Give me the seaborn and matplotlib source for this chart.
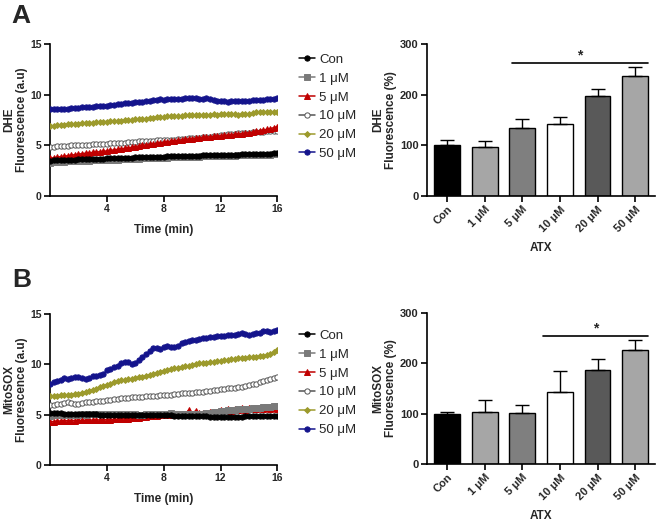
import numpy as np
import pandas as pd
import matplotlib
matplotlib.use('Agg')
import matplotlib.pyplot as plt
import seaborn as sns

# time axis (min), one reading every 0.25 min
time_min = [i * 0.25 for i in range(65)]
conc_labels = ["Con", "1 μM", "5 μM", "10 μM", "20 μM", "50 μM"]

# ---- panel A, DHE kinetics (a.u) ----
dhe_con = [3.5, 3.52, 3.55, 3.55, 3.57, 3.58, 3.6, 3.6, 3.62, 3.62, 3.63, 3.65, 3.65,
           3.66, 3.68, 3.68, 3.7, 3.7, 3.72, 3.73, 3.75, 3.75, 3.77, 3.78, 3.8, 3.8,
           3.82, 3.83, 3.85, 3.85, 3.87, 3.88, 3.88, 3.9, 3.9, 3.92, 3.92, 3.93, 3.95,
           3.95, 3.96, 3.97, 3.98, 4.0, 4.0, 4.02, 4.02, 4.03, 4.05, 4.05, 4.06, 4.07,
           4.08, 4.08, 4.1, 4.1, 4.12, 4.12, 4.13, 4.15, 4.15, 4.17, 4.18, 4.2, 4.22]
dhe_1 = [3.3, 3.32, 3.35, 3.37, 3.4, 3.42, 3.43, 3.45, 3.47, 3.48, 3.5, 3.5, 3.52,
         3.53, 3.55, 3.56, 3.57, 3.58, 3.6, 3.6, 3.62, 3.63, 3.65, 3.66, 3.67, 3.68,
         3.7, 3.71, 3.72, 3.73, 3.75, 3.76, 3.77, 3.78, 3.8, 3.8, 3.82, 3.83, 3.84,
         3.85, 3.86, 3.87, 3.88, 3.9, 3.9, 3.92, 3.93, 3.94, 3.95, 3.96, 3.97, 3.98,
         3.99, 4.0, 4.0, 4.02, 4.03, 4.04, 4.05, 4.06, 4.07, 4.08, 4.09, 4.1, 4.1]
dhe_5 = [3.72, 3.78, 3.82, 3.88, 3.92, 3.98, 4.02, 4.08, 4.12, 4.18, 4.22, 4.25, 4.3,
         4.33, 4.37, 4.4, 4.45, 4.5, 4.55, 4.6, 4.65, 4.7, 4.75, 4.8, 4.88, 4.95,
         5.0, 5.05, 5.1, 5.15, 5.2, 5.25, 5.3, 5.35, 5.4, 5.45, 5.5, 5.55, 5.6,
         5.63, 5.67, 5.7, 5.75, 5.78, 5.8, 5.85, 5.88, 5.9, 5.95, 5.98, 6.02, 6.05,
         6.08, 6.12, 6.15, 6.2, 6.25, 6.3, 6.38, 6.45, 6.5, 6.58, 6.65, 6.75, 6.85]
dhe_10 = [4.85, 4.88, 4.9, 4.92, 4.95, 4.98, 5.0, 5.02, 5.03, 5.05, 5.07, 5.08, 5.1,
          5.12, 5.13, 5.15, 5.17, 5.18, 5.2, 5.22, 5.25, 5.27, 5.3, 5.32, 5.35, 5.38,
          5.4, 5.42, 5.45, 5.47, 5.48, 5.5, 5.52, 5.53, 5.55, 5.57, 5.6, 5.62, 5.65,
          5.68, 5.7, 5.72, 5.75, 5.78, 5.82, 5.85, 5.9, 5.95, 6.0, 6.05, 6.1, 6.12,
          6.15, 6.18, 6.2, 6.22, 6.25, 6.28, 6.3, 6.32, 6.35, 6.38, 6.4, 6.42, 6.45]
dhe_20 = [6.9, 6.95, 7.0, 7.02, 7.05, 7.08, 7.1, 7.12, 7.15, 7.18, 7.2, 7.22, 7.25,
          7.28, 7.3, 7.32, 7.35, 7.38, 7.4, 7.42, 7.45, 7.48, 7.5, 7.52, 7.55, 7.58,
          7.6, 7.62, 7.68, 7.72, 7.78, 7.8, 7.82, 7.85, 7.88, 7.9, 7.92, 7.9, 7.95,
          7.98, 8.0, 7.98, 8.0, 8.02, 8.0, 8.02, 8.05, 8.03, 8.05, 8.08, 8.05, 8.1,
          8.05, 8.0, 8.05, 8.1, 8.12, 8.15, 8.25, 8.3, 8.28, 8.32, 8.3, 8.28, 8.25]
dhe_50 = [8.55, 8.58, 8.6, 8.6, 8.62, 8.6, 8.65, 8.7, 8.72, 8.75, 8.78, 8.8, 8.82,
          8.85, 8.88, 8.9, 8.92, 8.95, 9.0, 9.05, 9.1, 9.15, 9.2, 9.22, 9.25, 9.28,
          9.3, 9.38, 9.42, 9.45, 9.5, 9.55, 9.52, 9.55, 9.58, 9.6, 9.58, 9.62, 9.65,
          9.65, 9.7, 9.68, 9.6, 9.62, 9.7, 9.55, 9.45, 9.38, 9.35, 9.38, 9.32, 9.35,
          9.35, 9.38, 9.4, 9.38, 9.42, 9.45, 9.48, 9.5, 9.52, 9.55, 9.58, 9.62, 9.68]

# ---- panel B, MitoSOX kinetics (a.u) ----
mito_con = [5.2, 5.18, 5.15, 5.12, 5.1, 5.1, 5.08, 5.08, 5.05, 5.05, 5.05, 5.03, 5.02,
            5.02, 5.0, 5.0, 5.0, 5.0, 4.98, 4.98, 4.97, 4.97, 4.96, 4.95, 4.95, 4.95,
            4.95, 4.95, 4.94, 4.95, 4.95, 4.93, 4.93, 4.92, 4.92, 4.9, 4.9, 4.9, 4.88,
            4.88, 4.87, 4.86, 4.85, 4.85, 4.83, 4.82, 4.82, 4.8, 4.78, 4.78, 4.8, 4.82,
            4.82, 4.8, 4.82, 4.85, 4.85, 4.83, 4.85, 4.87, 4.88, 4.88, 4.9, 4.9, 4.9]
mito_1 = [4.9, 4.92, 4.95, 4.95, 4.97, 4.98, 5.0, 5.0, 5.0, 5.02, 5.0, 5.02, 5.03,
          5.02, 5.03, 5.05, 5.05, 5.05, 5.03, 5.05, 5.08, 5.05, 5.05, 5.02, 5.03, 5.0,
          5.0, 5.02, 5.03, 5.05, 5.07, 5.1, 5.08, 5.1, 5.12, 5.1, 5.1, 5.08, 5.05,
          5.05, 5.08, 5.05, 5.05, 5.1, 5.15, 5.2, 5.25, 5.3, 5.35, 5.4, 5.45, 5.48,
          5.5, 5.52, 5.55, 5.58, 5.6, 5.62, 5.65, 5.7, 5.72, 5.75, 5.8, 5.82, 5.85]
mito_5 = [4.3, 4.32, 4.35, 4.38, 4.4, 4.4, 4.42, 4.42, 4.43, 4.45, 4.45, 4.45, 4.47,
          4.47, 4.48, 4.5, 4.5, 4.52, 4.53, 4.55, 4.57, 4.6, 4.62, 4.65, 4.68, 4.7,
          4.75, 4.8, 4.85, 4.88, 4.9, 4.92, 4.95, 4.95, 4.97, 5.0, 5.0, 5.02, 5.05,
          5.45, 5.1, 5.4, 5.12, 5.15, 5.2, 5.22, 5.25, 5.3, 5.5, 5.35, 5.55, 5.4,
          5.6, 5.45, 5.65, 5.5, 5.7, 5.55, 5.6, 5.62, 5.6, 5.62, 5.6, 5.62, 5.6]
mito_10 = [5.95, 6.0, 6.05, 6.1, 6.2, 6.22, 6.18, 6.1, 6.08, 6.15, 6.22, 6.25, 6.3,
           6.32, 6.35, 6.4, 6.45, 6.5, 6.55, 6.58, 6.62, 6.65, 6.7, 6.72, 6.75, 6.78,
           6.8, 6.82, 6.85, 6.88, 6.9, 6.92, 6.95, 6.98, 7.0, 7.05, 7.1, 7.12, 7.15,
           7.18, 7.2, 7.22, 7.25, 7.3, 7.35, 7.4, 7.45, 7.5, 7.55, 7.6, 7.62, 7.65,
           7.7, 7.75, 7.8, 7.88, 7.95, 8.02, 8.1, 8.2, 8.3, 8.4, 8.5, 8.6, 8.7]
mito_20 = [6.85, 6.88, 6.9, 6.92, 6.95, 6.98, 7.0, 7.05, 7.1, 7.2, 7.3, 7.4, 7.5,
           7.6, 7.75, 7.85, 8.0, 8.1, 8.2, 8.3, 8.4, 8.45, 8.5, 8.55, 8.62, 8.7,
           8.78, 8.85, 8.95, 9.05, 9.15, 9.25, 9.35, 9.45, 9.55, 9.62, 9.68, 9.75, 9.8,
           9.85, 9.9, 10.0, 10.1, 10.12, 10.15, 10.2, 10.25, 10.3, 10.35, 10.4, 10.45, 10.5,
           10.55, 10.6, 10.62, 10.65, 10.7, 10.72, 10.75, 10.8, 10.85, 10.9, 11.0, 11.2, 11.45]
mito_50 = [8.05, 8.2, 8.35, 8.45, 8.6, 8.55, 8.65, 8.7, 8.7, 8.6, 8.55, 8.65, 8.8,
           8.85, 8.9, 9.0, 9.45, 9.55, 9.7, 9.85, 10.1, 10.25, 10.2, 10.0, 10.15, 10.45,
           10.7, 11.0, 11.3, 11.6, 11.65, 11.55, 11.75, 11.8, 11.75, 11.7, 11.85, 12.1, 12.25,
           12.3, 12.4, 12.45, 12.55, 12.6, 12.65, 12.7, 12.75, 12.8, 12.85, 12.85, 12.9, 12.88,
           12.95, 13.0, 13.1, 13.05, 12.95, 13.0, 13.1, 13.15, 13.35, 13.3, 13.25, 13.35, 13.4]

# ---- bar charts (% of control), mean and upper SEM ----
dhe_mean = [100, 97, 135, 143, 198, 237]
dhe_err = [10, 11, 17, 12, 13, 17]
mito_mean = [100, 104, 101, 143, 187, 226]
mito_err = [4, 23, 16, 41, 21, 20]

# series styles: colour, marker, face colour
styles = [("#000000", "o", "#000000"),
          ("#7a7a7a", "s", "#7a7a7a"),
          ("#c00000", "^", "#c00000"),
          ("#555555", "o", "#ffffff"),
          ("#9c9a2c", "D", "#9c9a2c"),
          ("#14148c", "o", "#14148c")]
bar_colors = ["#000000", "#a6a6a6", "#7f7f7f", "#ffffff", "#595959", "#a6a6a6"]

sns.set_style("ticks")
plt.rcParams['font.family'] = ['Liberation Sans', 'DejaVu Sans']

fig = plt.figure(figsize=(6.56, 5.24), dpi=100)


def style_axis(ax, size=8):
    sns.despine(ax=ax)
    for s in ["left", "bottom"]:
        ax.spines[s].set_linewidth(1.2)
        ax.spines[s].set_color("black")
    ax.tick_params(axis="both", length=4, width=1.2, color="black", labelsize=size, pad=2)
    for lab in ax.get_xticklabels() + ax.get_yticklabels():
        lab.set_fontweight("bold")


def line_panel(ax, series, ylabel, legend_y):
    for i, (vals, lab) in enumerate(zip(series, conc_labels)):
        col, mk, face = styles[i]
        sns.lineplot(x=time_min, y=vals, ax=ax, color=col, marker=mk,
                     markersize=3.8 if mk != "D" else 3.0, markerfacecolor=face,
                     markeredgecolor=col, markeredgewidth=0.7, linewidth=1.1,
                     label=lab, zorder=10 - i)
    ax.set_xlim(0, 16)
    ax.set_ylim(0, 15)
    ax.set_xticks([4, 8, 12, 16])
    ax.set_yticks([0, 5, 10, 15])
    ax.set_ylabel(ylabel, fontsize=8.5, fontweight="bold", linespacing=1.1)
    ax.yaxis.set_label_coords(-0.095, 0.5)
    ax.set_xlabel("Time (min)", fontsize=8.5, fontweight="bold", labelpad=7)
    style_axis(ax, size=7.5)
    ax.legend(loc="upper left", bbox_to_anchor=(1.065, legend_y + 0.05), frameon=False,
              fontsize=9.5, handlelength=1.2, handletextpad=0.35, labelspacing=0.5,
              borderpad=0)


def bar_panel(ax, means, errs, ylabel, sig_from, sig_y):
    sns.barplot(x=conc_labels, y=means, hue=conc_labels, palette=bar_colors,
                legend=False, width=0.69, edgecolor="black", linewidth=1.0, ax=ax)
    ax.errorbar(x=np.arange(len(means)), y=means, yerr=[np.zeros(len(errs)), errs],
                fmt="none", ecolor="black", elinewidth=1.0, capsize=5, capthick=1.0,
                zorder=1)
    ax.set_xlim(-0.53, 5.53)
    ax.set_ylim(0, 300)
    ax.set_yticks([0, 100, 200, 300])
    ax.set_ylabel(ylabel, fontsize=8.5, fontweight="bold", linespacing=1.1)
    ax.yaxis.set_label_coords(-0.13, 0.5)
    ax.set_xlabel("ATX", fontsize=8.5, fontweight="bold", labelpad=6)
    style_axis(ax)
    for lab in ax.get_xticklabels():
        lab.set_rotation(45)
        lab.set_ha("right")
        lab.set_rotation_mode("anchor")
    ax.plot([sig_from, 5.35], [sig_y, sig_y], color="black", lw=1.2, clip_on=False)
    ax.text((sig_from + 5.35) / 2, sig_y + 1, "*", ha="center", va="bottom",
            fontsize=10, fontweight="bold")


ax1 = fig.add_axes([0.0762, 0.626, 0.3468, 0.290])
line_panel(ax1, [dhe_con, dhe_1, dhe_5, dhe_10, dhe_20, dhe_50],
           "DHE\nFluorescence (a.u)", 0.93)
ax2 = fig.add_axes([0.651, 0.626, 0.3476, 0.290])
bar_panel(ax2, dhe_mean, dhe_err, "DHE\nFluorescence (%)", 1.73, 262)

ax3 = fig.add_axes([0.0762, 0.1126, 0.3468, 0.288])
line_panel(ax3, [mito_con, mito_1, mito_5, mito_10, mito_20, mito_50],
           "MitoSOX\nFluorescence (a.u)", 0.89)
ax4 = fig.add_axes([0.651, 0.1145, 0.3476, 0.288])
bar_panel(ax4, mito_mean, mito_err, "MitoSOX\nFluorescence (%)", 2.55, 254)

fig.text(0.018, 0.993, "A", fontsize=19, fontweight="bold", va="top")
fig.text(0.018, 0.488, "B", fontsize=19, fontweight="bold", va="top")

plt.savefig("out.png", dpi=100)
plt.close()
